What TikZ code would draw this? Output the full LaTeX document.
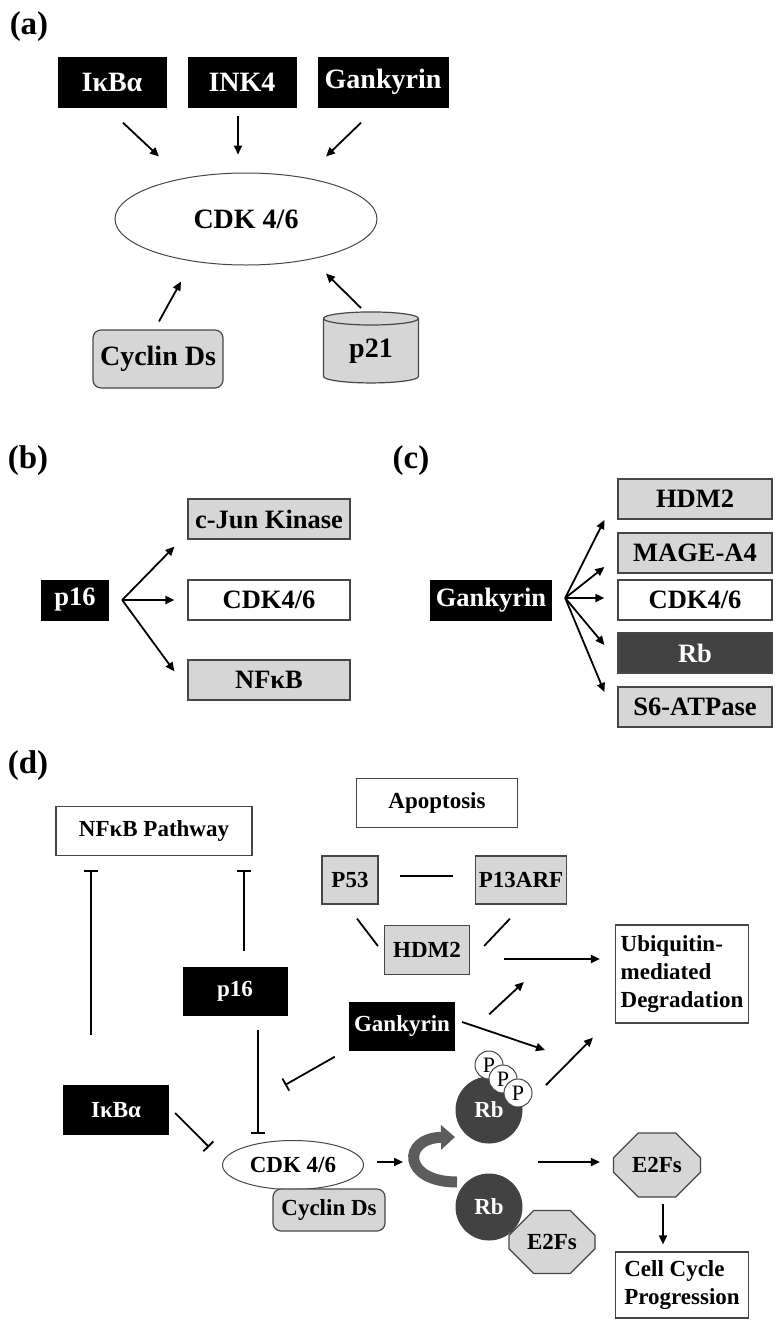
\documentclass[tikz,border=0pt]{standalone}
\usepackage{fontspec}
\setmainfont{Liberation Serif}
\usepackage{tikz}
\usetikzlibrary{arrows.meta,shapes.geometric,shapes.misc,positioning}
\definecolor{boxgray}{RGB}{214,214,214}
\definecolor{edgegray}{RGB}{70,70,70}
\definecolor{rbgray}{RGB}{66,66,66}
\definecolor{turngray}{RGB}{92,92,92}
\tikzset{
  tag/.style={font=\fontsize{33}{36}\selectfont\bfseries},
  big/.style={font=\fontsize{28}{32}\selectfont\bfseries},
  mid/.style={font=\fontsize{26.5}{30}\selectfont\bfseries},
  sml/.style={font=\fontsize{23}{28}\selectfont\bfseries},
  blk/.style={fill=black,text=white,inner sep=0pt},
  gbox/.style={fill=boxgray,draw=edgegray,line width=1.2pt,inner sep=0pt},
  wbox/.style={fill=white,draw=edgegray,line width=1.2pt,inner sep=0pt},
  dbox/.style={fill=rbgray,draw=edgegray,text=white,line width=1.2pt,inner sep=0pt},
  oval/.style={ellipse,fill=white,draw=edgegray,line width=1pt,inner sep=0pt},
  rbox/.style={gbox,rounded corners=8pt},
  cyl/.style={cylinder,shape border rotate=90,aspect=0.3,gbox},
  octa/.style={chamfered rectangle,chamfered rectangle xsep=17pt,chamfered rectangle ysep=17pt,gbox},
  rbcirc/.style={circle,fill=rbgray,draw=edgegray,text=white,line width=1pt,minimum size=66pt,inner sep=0pt,sml},
  phos/.style={circle,fill=white,draw=edgegray,line width=1pt,minimum size=28pt,inner sep=0pt,font=\fontsize{22}{22}\selectfont},
  act/.style={-{Triangle[length=9pt,width=8pt]},line width=1.8pt},
  inh/.style={-{Bar[width=14pt]},line width=1.8pt},
  link/.style={line width=1.8pt}
}

\begin{document}
\begin{tikzpicture}[x=1pt,y=-1pt]
\useasboundingbox (0,0) rectangle (774,1320);
% (a) regulators of CDK 4/6
\node[tag] (taga) at (29,27) {(a)};
\node[blk,big,minimum width=109pt,minimum height=51pt] (ikba) at (112,82) {IκBα};
\node[blk,big,minimum width=109pt,minimum height=51pt] (inka) at (242,82) {INK4};
\node[blk,big,minimum width=131pt,minimum height=51pt] (gnka) at (383,82) {Gankyrin};
\node[oval,big,minimum width=262pt,minimum height=92pt] (cdka) at (246,219) {CDK 4/6};
\node[rbox,big,minimum width=130pt,minimum height=58pt] (cyca) at (158,359) {Cyclin Ds};
\node[cyl,big,minimum width=95pt,minimum height=71pt] (ptwo) at (371,351) {p21};
\draw[act] ([shift={(11,15)}]ikba.south) -- ([shift={(-87,-16)}]cdka.north);
\draw[act] ([shift={(-4,8)}]inka.south) -- ([shift={(-8,-18)}]cdka.north);
\draw[act] ([shift={(-22,15)}]gnka.south) -- ([shift={(80,-16)}]cdka.north);
\draw[act] ([shift={(1,-8)}]cyca.north) -- ([shift={(-65,16)}]cdka.south);
\draw[act] ([shift={(-10,-43)}]ptwo.center) -- ([shift={(80,8)}]cdka.south);

% (b) p16 targets
\node[tag] (tagb) at (28,461) {(b)};
\node[blk,mid,minimum width=68pt,minimum height=41pt] (psb) at (75,600) {p16};
\node[gbox,mid,minimum width=162pt,minimum height=40pt] (cjun) at (269,519) {c-Jun Kinase};
\node[wbox,mid,minimum width=162pt,minimum height=40pt] (cdkb) at (269,600) {CDK4/6};
\node[gbox,mid,minimum width=162pt,minimum height=40pt] (nfkb) at (269,680) {NFκB};
\draw[act] ([xshift=13pt]psb.east) -- ([shift={(-13,7)}]cjun.south west);
\draw[act] ([xshift=13pt]psb.east) -- ([xshift=-13pt]cdkb.west);
\draw[act] ([xshift=13pt]psb.east) -- ([shift={(-13,12)}]nfkb.north west);

% (c) gankyrin targets
\node[tag] (tagc) at (411,461) {(c)};
\node[blk,mid,minimum width=122pt,minimum height=41pt] (gnkc) at (491,600) {Gankyrin};
\node[gbox,mid,minimum width=154pt,minimum height=40pt] (hdmc) at (695,499) {HDM2};
\node[gbox,mid,minimum width=154pt,minimum height=40pt] (magc) at (695,553) {MAGE-A4};
\node[wbox,mid,minimum width=154pt,minimum height=40pt] (cdkc) at (695,600) {CDK4/6};
\node[dbox,mid,minimum width=154pt,minimum height=40pt] (rbc) at (695,653) {Rb};
\node[gbox,mid,minimum width=154pt,minimum height=40pt] (sixc) at (695,707) {S6-ATPase};
\draw[act] ([shift={(13,-2)}]gnkc.east) -- ([shift={(-13,21)}]hdmc.west);
\draw[act] ([shift={(13,-2)}]gnkc.east) -- ([shift={(-13,14)}]magc.west);
\draw[act] ([shift={(13,-2)}]gnkc.east) -- ([shift={(-13,-2)}]cdkc.west);
\draw[act] ([shift={(13,-2)}]gnkc.east) -- ([shift={(-13,-8)}]rbc.west);
\draw[act] ([shift={(13,-2)}]gnkc.east) -- ([shift={(-13,-15)}]sixc.west);

% (d) pathway
\node[tag] (tagd) at (28,766) {(d)};
\node[wbox,sml,minimum width=196pt,minimum height=49pt] (nfpw) at (154,831) {NFκB Pathway};
\node[wbox,sml,minimum width=161pt,minimum height=49pt] (apop) at (437,803) {Apoptosis};
\node[gbox,sml,minimum width=56pt,minimum height=48pt] (pfty) at (350,880) {P53};
\node[gbox,sml,minimum width=91pt,minimum height=48pt] (parf) at (521,880) {P13ARF};
\node[gbox,sml,minimum width=85pt,minimum height=49pt] (hdmd) at (427,950) {HDM2};
\node[wbox,sml,align=left,inner xsep=5pt,minimum width=133pt,minimum height=98pt] (ubiq) at (682,974) {Ubiquitin-\\mediated\\Degradation};
\node[blk,sml,minimum width=105pt,minimum height=49pt] (psd) at (235,991) {p16};
\node[blk,sml,minimum width=106pt,minimum height=49pt] (gnkd) at (402,1026) {Gankyrin};
\node[blk,sml,minimum width=106pt,minimum height=50pt] (ikbd) at (116,1110) {IκBα};
\node[oval,sml,minimum width=141pt,minimum height=49pt] (cdkd) at (293,1165) {CDK 4/6};
\node[rbox,sml,minimum width=112pt,minimum height=42pt] (cycd) at (329,1210) {Cyclin Ds};
\coordinate (swing) at (403,1162);
\draw[line width=11pt,turngray,-{Triangle[length=14pt,width=24pt]}] (457,1182) .. controls (402,1182) and (402,1138) .. (455,1137);
\node[octa,sml,minimum width=86pt,minimum height=63pt] (etfa) at (552,1242) {E2Fs};
\node[rbcirc] (rbb) at (489,1207) {Rb};
\node[rbcirc] (rba) at (489,1110) {Rb};
\node[phos] (pa) at (489,1065) {P};
\node[phos] (pb) at (503,1079) {P};
\node[phos] (pc) at (518,1093) {P};
\node[octa,sml,minimum width=87pt,minimum height=64pt] (etfb) at (657,1165) {E2Fs};
\node[wbox,sml,align=left,inner xsep=5pt,minimum width=133pt,minimum height=66pt] (ccp) at (682,1285) {Cell Cycle\\Progression};
\draw[inh] ([shift={(-25,-50)}]ikbd.north) -- ([shift={(-63,14)}]nfpw.south);
\draw[inh] ([shift={(9,-15)}]psd.north) -- ([shift={(90,14)}]nfpw.south);
\draw[inh] ([shift={(23,14)}]psd.south) -- ([shift={(-35,-6)}]cdkd.north);
\draw[inh] ([shift={(6,3)}]ikbd.east) -- ([shift={(-13,-18)}]cdkd.west);
\draw[inh] ([shift={(-14,6)}]gnkd.south west) -- ([shift={(-8,-55)}]cdkd.north);
\draw[link] ([shift={(21,-4)}]pfty.east) -- ([shift={(-22,-4)}]parf.west);
\draw[link] ([shift={(7,14)}]pfty.south) -- ([shift={(-6,-4)}]hdmd.west);
\draw[link] ([shift={(-11,14)}]parf.south) -- ([shift={(14,-4)}]hdmd.east);
\draw[act] ([shift={(34,9)}]hdmd.east) -- ([shift={(-15,-15)}]ubiq.west);
\draw[act] ([shift={(34,13)}]gnkd.north east) -- ([shift={(-91,8)}]ubiq.west);
\draw[act] ([shift={(7,-4)}]gnkd.east) -- ([shift={(56,-60)}]rba.center);
\draw[act] ([shift={(57,-25)}]rba.center) -- ([shift={(-22,14)}]ubiq.south west);
\draw[act] ([shift={(13,-3)}]cdkd.east) -- (swing);
\draw[act] ([shift={(49,-45)}]rbb.center) -- ([shift={(-13,-3)}]etfb.west);
\draw[act] ([shift={(6,6)}]etfb.south) -- ([shift={(-19,-7)}]ccp.north);
\end{tikzpicture}
\end{document}
